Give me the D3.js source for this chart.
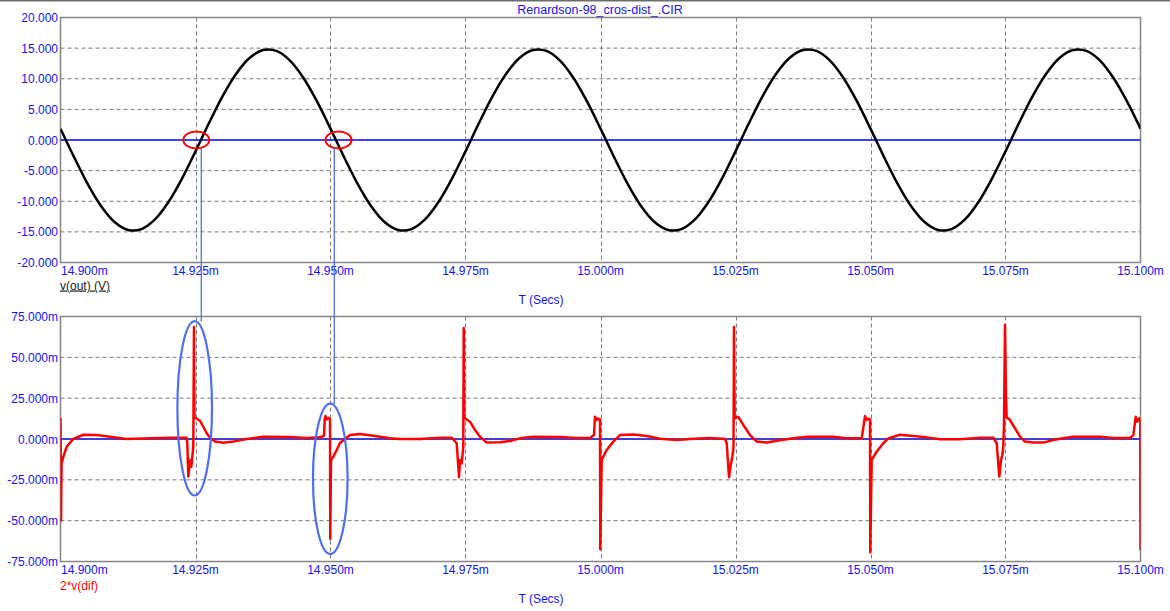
<!DOCTYPE html>
<html><head><meta charset="utf-8">
<script src="https://cdn.jsdelivr.net/npm/d3@7"></script>
<style>body{margin:0;background:#fff}svg{display:block;font-family:Arial,"Liberation Sans",sans-serif}</style>
</head><body><svg id="c" width="1170" height="611"></svg>
<script>
// ---- data ----
const title = "Renardson-98_cros-dist_.CIR";
const xTicks = [14.900, 14.925, 14.950, 14.975, 15.000, 15.025, 15.050, 15.075, 15.100];
const xTickLabels = ["14.900m","14.925m","14.950m","14.975m","15.000m","15.025m","15.050m","15.075m","15.100m"];
const topYTicks = [20, 15, 10, 5, 0, -5, -10, -15, -20];
const topYTickLabels = ["20.000","15.000","10.000","5.000","0.000","-5.000","-10.000","-15.000","-20.000"];
const botYTicks = [75, 50, 25, 0, -25, -50, -75];
const botYTickLabels = ["75.000m","50.000m","25.000m","0.000m","-25.000m","-50.000m","-75.000m"];
// v(out), sampled every 2.5 us from 14.900m
const voutStart = 14.900, voutStep = 0.0025;
const voutValues = [
 1.85,-2.77,-7.13,-10.78,-13.39,-14.68,-14.54,-12.97,-10.13,-6.30,-1.85,2.77,7.13,10.78,13.39,14.68,14.54,12.97,10.13,6.30,
 1.85,-2.77,-7.13,-10.78,-13.39,-14.68,-14.54,-12.97,-10.13,-6.30,-1.85,2.77,7.13,10.78,13.39,14.68,14.54,12.97,10.13,6.30,
 1.85,-2.77,-7.13,-10.78,-13.39,-14.68,-14.54,-12.97,-10.13,-6.30,-1.85,2.77,7.13,10.78,13.39,14.68,14.54,12.97,10.13,6.30,
 1.85,-2.77,-7.13,-10.78,-13.39,-14.68,-14.54,-12.97,-10.13,-6.30,-1.85,2.77,7.13,10.78,13.39,14.68,14.54,12.97,10.13,6.30,
 1.85];
// 2*v(dif) in mV
const difTime = [
 14.90000,14.90010,14.90020,14.90052,14.90115,14.90237,14.90422,14.90670,14.90917,14.91226,14.91657,14.92089,
 14.92333,14.92348,14.92367,14.92398,14.92422,14.92459,14.92472,14.92481,14.92583,14.92644,14.92707,14.92769,
 14.92861,14.93015,14.93200,14.93448,14.93756,14.94250,14.94559,14.94806,14.94880,
 14.94893,14.94907,14.94935,14.94963,14.94991,14.94996,14.95009,14.95052,14.95115,14.95176,14.95269,
 14.95361,14.95546,14.95824,14.96102,14.96287,14.96657,14.97028,14.97244,
 14.97337,14.97380,14.97398,14.97430,14.97459,14.97467,14.97478,14.97583,14.97676,14.97769,14.97893,14.98139,
 14.98324,14.98509,14.98756,14.99250,14.99559,14.99806,14.99880,
 14.99898,14.99930,14.99954,14.99991,14.99996,15.00022,15.00115,15.00237,15.00361,15.00607,15.00856,15.01102,
 15.01411,15.01657,15.02028,15.02306,
 15.02337,15.02380,15.02411,15.02441,15.02463,15.02472,15.02485,15.02552,15.02644,15.02769,15.02893,15.03078,
 15.03324,15.03570,15.03819,15.04311,15.04559,15.04837,
 15.04898,15.04930,15.04959,15.04991,15.04996,15.05022,15.05115,15.05237,15.05330,15.05546,15.05793,15.06041,
 15.06287,15.06657,15.07028,15.07274,
 15.07337,15.07385,15.07417,15.07441,15.07459,15.07472,15.07491,15.07509,15.07522,15.07583,15.07676,15.07769,
 15.07861,15.08015,15.08200,15.08385,15.08570,15.08756,15.09250,15.09496,15.09806,15.09867,
 15.09911,15.09941,15.09978,15.09995,15.10000];
const difValue = [
 13,-50,-15,-11,-4.7,0,2.6,2.5,1.4,0,0.4,0.8,
 0.8,-2.5,-23,-13,-17,-5,68.6,13.3,11.2,7.5,3.5,0.8,
 -1.6,-2.3,-1.6,0,1.4,1.2,0.6,1.0,2.0,
 12.3,14,12,13,12,-61,-13,-10.8,-6.7,-2.5,0,
 2.4,3.0,1.8,0.4,0,0,0.8,0.8,
 -2.6,-23.4,-12.8,-15,-5,68,13,10.6,5.5,1.4,-2.2,-2.0,
 -1.2,0.4,1.4,1.2,0.6,0.6,2.4,
 13.6,11.6,12.5,12,-67.5,-12.8,-6.7,-1.6,2.4,2.8,1.8,0.2,
 -0.6,0,0.6,0,
 -2.6,-23.4,-16,-11,-5,68.5,12.6,13.6,8.6,2.4,-1.6,-2.2,
 -0.8,0.4,1.4,1.4,0.4,0.4,
 14,11.6,12.5,12,-69.5,-12.8,-7.8,-2.6,0.4,2.6,1.8,1.0,
 -0.2,-0.2,0.8,0.8,
 -2.6,-23,-12.8,-10,-5,9,70,26,13.3,11.6,6.5,1.4,
 -1.6,-2.2,-2.2,-0.6,0.4,1.4,1.4,0.6,0.6,2.4,
 13.6,10.6,12.6,12,-68];
// annotations (data coords)
const redMarkTimes = [14.92515, 14.95148];
const blueLineTimes = [14.92607, 14.95070];
const blueEllipseTimes = [14.92485, 14.94996];
const blueEllipseCenters = [18.8, -24.4];   // mV
const blueEllipseHalfHeights = [53.4, 46.1]; // mV

// ---- drawing ----
const svg = d3.select("#c");
const X0 = 60.5, X1 = 1140.5;
const x = d3.scaleLinear().domain([14.9, 15.1]).range([X0, X1]);
const yTop = d3.scaleLinear().domain([-20, 20]).range([262.5, 17.5]);
const yBot = d3.scaleLinear().domain([-75, 75]).range([561.5, 316.5]);
const blue = "#1414f0", grid = "#7a7a7a", border = "#858585";

svg.append("line").attr("x1",0).attr("x2",1170).attr("y1",0.5).attr("y2",0.5).attr("stroke","#6c6c6c").attr("stroke-width",2);
svg.append("text").attr("x",600).attr("y",14).attr("text-anchor","middle").attr("font-size",12.5).attr("fill",blue).text(title);

function panel(y, yTicks, yLabels, zeroColor, id) {
  const g = svg.append("g");
  const [yb, yt] = y.range();
  g.append("defs").append("clipPath").attr("id", id).append("rect")
    .attr("x", X0).attr("y", yt).attr("width", X1 - X0).attr("height", yb - yt);
  g.selectAll(".hg").data(yTicks.filter(v => v !== 0 && v !== yTicks[0] && v !== yTicks[yTicks.length-1]))
    .join("line").attr("x1", X0).attr("x2", X1).attr("y1", d => y(d)).attr("y2", d => y(d))
    .attr("stroke", grid).attr("stroke-dasharray", "4,3");
  g.selectAll(".vg").data(xTicks.slice(1, -1)).join("line")
    .attr("x1", d => Math.round(x(d)) + 0.5).attr("x2", d => Math.round(x(d)) + 0.5).attr("y1", yt).attr("y2", yb)
    .attr("stroke", grid).attr("stroke-dasharray", "4,3");
  g.append("rect").attr("x", X0).attr("y", yt).attr("width", X1 - X0).attr("height", yb - yt)
    .attr("fill", "none").attr("stroke", border).attr("stroke-width", 1.5);
  g.append("line").attr("x1", X0).attr("x2", X1).attr("y1", y(0)).attr("y2", y(0)).attr("stroke", zeroColor).attr("stroke-width", 1.3);
  g.selectAll(".yl").data(yTicks).join("text")
    .attr("x", 58).attr("y", d => y(d) + 4.5).attr("text-anchor", "end").attr("font-size", 12).attr("fill", blue)
    .text((d, i) => yLabels[i]);
  g.selectAll(".xl").data(xTicks).join("text")
    .attr("x", (d, i) => i === 0 ? X0 + 0.5 : x(d)).attr("y", yb + 12.5)
    .attr("text-anchor", (d, i) => i === 0 ? "start" : "middle").attr("font-size", 12).attr("fill", blue)
    .text((d, i) => xTickLabels[i]);
  g.append("text").attr("x", 541).attr("y", yb + 41.5).attr("text-anchor", "middle").attr("font-size", 12).attr("fill", blue).text("T (Secs)");
  return g;
}

const gTop = panel(yTop, topYTicks, topYTickLabels, "#0000ff", "clipTop");
const gBot = panel(yBot, botYTicks, botYTickLabels, "#0000c8", "clipBot");

gTop.append("text").attr("x", 60).attr("y", 289.5).attr("font-size", 12).attr("fill", "#202020")
  .attr("text-decoration", "underline").text("v(out) (V)");
gBot.append("text").attr("x", 60).attr("y", 589.5).attr("font-size", 12).attr("fill", "#ff0000").text("2*v(dif)");

const voutData = voutValues.map((v, i) => [voutStart + i * voutStep, v]);
gTop.append("path").datum(voutData).attr("clip-path", "url(#clipTop)")
  .attr("d", d3.line().x(d => x(d[0])).y(d => yTop(d[1])).curve(d3.curveCatmullRom.alpha(0.5)))
  .attr("fill", "none").attr("stroke", "#000").attr("stroke-width", 2.5);

const difData = difTime.map((t, i) => [t, difValue[i]]);
gBot.append("path").datum(difData).attr("clip-path", "url(#clipBot)")
  .attr("d", d3.line().x(d => x(d[0])).y(d => yBot(d[1])))
  .attr("fill", "none").attr("stroke", "#ff0000").attr("stroke-width", 2.5).attr("stroke-linejoin", "round");

const annBlue = "#4f6ff0";
redMarkTimes.forEach(t => {
  svg.append("ellipse").attr("cx", x(t)).attr("cy", yTop(0)).attr("rx", 13).attr("ry", 8.5)
    .attr("fill", "none").attr("stroke", "#ff0000").attr("stroke-width", 2);
});
blueEllipseTimes.forEach((t, i) => {
  const cy = yBot(blueEllipseCenters[i]);
  const ry = yBot(0) - yBot(blueEllipseHalfHeights[i]);
  svg.append("ellipse").attr("cx", x(t)).attr("cy", cy).attr("rx", 17.3).attr("ry", ry)
    .attr("fill", "none").attr("stroke", annBlue).attr("stroke-width", 2.2);
  svg.append("line").attr("x1", x(blueLineTimes[i])).attr("x2", x(blueLineTimes[i]))
    .attr("y1", yTop(-1.3)).attr("y2", cy - ry + 0.5)
    .attr("stroke", annBlue).attr("stroke-width", 1.3);
});
</script></body></html>
